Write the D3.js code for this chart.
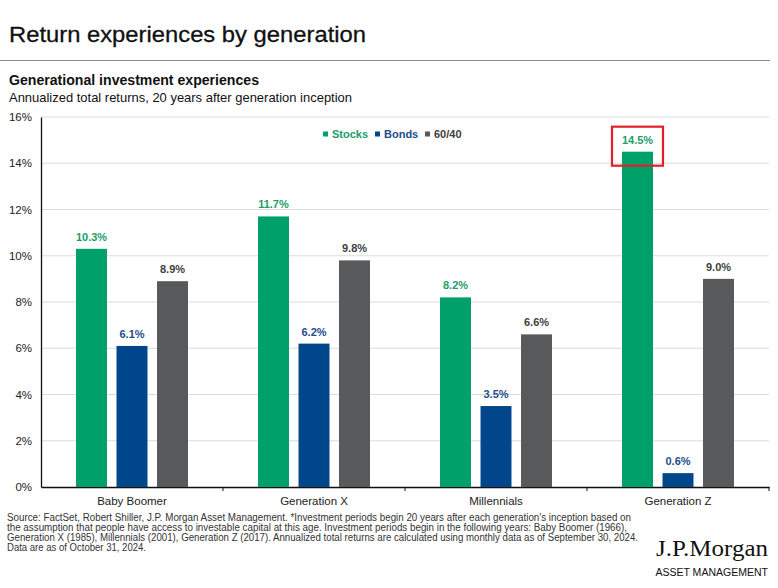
<!DOCTYPE html>
<html>
<head>
<meta charset="utf-8">
<script src="https://cdn.jsdelivr.net/npm/d3@7"></script>
<style>
  body { margin: 0; background: #fff; }
  svg { display: block; font-family: "Liberation Sans", Arial, sans-serif; }
</style>
</head>
<body>
<div id="chart"></div>
<script>
// chart data
const generations = ["Baby Boomer", "Generation X", "Millennials", "Generation Z"]
const seriesNames = ["Stocks", "Bonds", "60/40"]
const stocks = [10.3, 11.7, 8.2, 14.5]
const bonds = [6.1, 6.2, 3.5, 0.6]
const sixtyForty = [8.9, 9.8, 6.6, 9.0]
const yTicks = [0, 2, 4, 6, 8, 10, 12, 14, 16]
const footnote = [
    "Source: FactSet, Robert Shiller, J.P. Morgan Asset Management. *Investment periods begin 20 years after each generation's inception based on",
    "the assumption that people have access to investable capital at this age. Investment periods begin in the following years: Baby Boomer (1966),",
    "Generation X (1985), Millennials (2001), Generation Z (2017). Annualized total returns are calculated using monthly data as of September 30, 2024.",
    "Data are as of October 31, 2024."
]

const W = 778, H = 588
const plot = { left: 41, right: 769, top: 117, bottom: 487 }

const barColor = { "Stocks": "#00a06b", "Bonds": "#00468b", "60/40": "#58595b" }
const textColor = { "Stocks": "#1b9d6c", "Bonds": "#1d4e8a", "60/40": "#404040" }

const rows = []
generations.forEach(function (g, i) {
    rows.push({ gen: g, series: "Stocks", value: stocks[i] })
    rows.push({ gen: g, series: "Bonds", value: bonds[i] })
    rows.push({ gen: g, series: "60/40", value: sixtyForty[i] })
})

const svg = d3.select("#chart").append("svg")
    .attr("width", W)
    .attr("height", H)

// header
svg.append("text")
    .attr("x", 9).attr("y", 41.5)
    .attr("font-size", 22.5)
    .attr("fill", "#111")
    .attr("stroke", "#111").attr("stroke-width", 0.3)
    .attr("textLength", 357).attr("lengthAdjust", "spacingAndGlyphs")
    .text("Return experiences by generation")

svg.append("line")
    .attr("x1", 0).attr("x2", 770)
    .attr("y1", 60.5).attr("y2", 60.5)
    .attr("stroke", "#8c8c8c").attr("stroke-width", 1)

svg.append("text")
    .attr("x", 9).attr("y", 85)
    .attr("font-size", 14).attr("font-weight", "bold")
    .attr("fill", "#111")
    .attr("textLength", 250).attr("lengthAdjust", "spacingAndGlyphs")
    .text("Generational investment experiences")

svg.append("text")
    .attr("x", 9).attr("y", 102)
    .attr("font-size", 13.5)
    .attr("fill", "#111")
    .attr("textLength", 343).attr("lengthAdjust", "spacingAndGlyphs")
    .text("Annualized total returns, 20 years after generation inception")

// scales
const x0 = d3.scaleBand()
    .domain(generations)
    .range([plot.left, plot.right])
    .padding(0)

const x1 = d3.scaleBand()
    .domain(seriesNames)
    .range([35, x0.bandwidth() - 35])
    .paddingInner(0.235)
    .paddingOuter(0)

const y = d3.scaleLinear()
    .domain([0, 16])
    .range([plot.bottom, plot.top])

// gridlines
svg.append("g")
    .selectAll("line")
    .data(yTicks.filter(function (d) { return d > 0 }))
    .join("line")
    .attr("x1", plot.left).attr("x2", plot.right)
    .attr("y1", function (d) { return y(d) }).attr("y2", function (d) { return y(d) })
    .attr("stroke", "#dcdcdc").attr("stroke-width", 1.2)

// y axis
const yAxis = svg.append("g")
    .attr("transform", `translate(${plot.left},0)`)
    .call(d3.axisLeft(y).tickValues(yTicks).tickSize(0).tickPadding(9)
        .tickFormat(function (d) { return d + "%" }))
yAxis.select(".domain").attr("stroke", "#111").attr("stroke-width", 1.3)
yAxis.selectAll("text")
    .attr("font-size", 11.5)
    .attr("font-family", "Liberation Sans, Arial, sans-serif")
    .attr("fill", "#222")

// x axis
const xAxis = svg.append("g")
    .attr("transform", `translate(0,${plot.bottom})`)
    .call(d3.axisBottom(x0).tickSize(0).tickPadding(10))
xAxis.select(".domain").attr("stroke", "#111").attr("stroke-width", 1.3)
xAxis.selectAll("text")
    .attr("font-size", 11.5)
    .attr("font-family", "Liberation Sans, Arial, sans-serif")
    .attr("fill", "#222")

// small ticks between categories
svg.append("g")
    .selectAll("line")
    .data(generations.slice(1).concat(["end"]))
    .join("line")
    .attr("x1", function (d, i) { return plot.left + x0.step() * (i + 1) })
    .attr("x2", function (d, i) { return plot.left + x0.step() * (i + 1) })
    .attr("y1", plot.bottom).attr("y2", plot.bottom + 4)
    .attr("stroke", "#111").attr("stroke-width", 1)

// bars
const groups = svg.append("g")
    .selectAll("g")
    .data(rows)
    .join("g")
    .attr("transform", function (d) { return `translate(${x0(d.gen) + x1(d.series)},0)` })

groups.append("rect")
    .attr("x", 0)
    .attr("y", function (d) { return y(d.value) })
    .attr("width", x1.bandwidth())
    .attr("height", function (d) { return plot.bottom - y(d.value) })
    .attr("fill", function (d) { return barColor[d.series] })

groups.append("text")
    .attr("x", x1.bandwidth() / 2)
    .attr("y", function (d) { return y(d.value) - 8 })
    .attr("text-anchor", "middle")
    .attr("font-size", 11)
    .attr("font-weight", "bold")
    .attr("fill", function (d) { return textColor[d.series] })
    .text(function (d) { return d.value.toFixed(1) + "%" })

// highlight box on Generation Z stocks
const hx = x0("Generation Z") + x1("Stocks") + x1.bandwidth() / 2
svg.append("rect")
    .attr("x", hx - 25.5)
    .attr("y", y(14.5) - 25)
    .attr("width", 51)
    .attr("height", 39)
    .attr("fill", "none")
    .attr("stroke", "#e3202a")
    .attr("stroke-width", 2.2)

// legend
const legendX = [323, 375, 425]
const legend = svg.append("g")
    .selectAll("g")
    .data(seriesNames)
    .join("g")
    .attr("transform", function (d, i) { return `translate(${legendX[i]},134)` })

legend.append("rect")
    .attr("x", 0).attr("y", -2.5)
    .attr("width", 5).attr("height", 5)
    .attr("fill", function (d) { return barColor[d] })

legend.append("text")
    .attr("x", 9).attr("y", 4)
    .attr("font-size", 11)
    .attr("font-weight", "bold")
    .attr("fill", function (d) { return textColor[d] })
    .text(function (d) { return d })

// footnote
svg.append("g")
    .selectAll("text")
    .data(footnote)
    .join("text")
    .attr("x", 7)
    .attr("y", function (d, i) { return 521 + i * 10 })
    .attr("font-size", 10)
    .attr("font-family", "Liberation Sans Narrow, Liberation Sans, Arial, sans-serif")
    .attr("fill", "#333")
    .attr("textLength", function (d, i) { return [624, 620, 631, 139][i] })
    .attr("lengthAdjust", "spacingAndGlyphs")
    .text(function (d) { return d })

// logo
svg.append("text")
    .attr("x", 768).attr("y", 556)
    .attr("text-anchor", "end")
    .attr("font-size", 23)
    .attr("font-family", "Liberation Serif, DejaVu Serif, serif")
    .attr("fill", "#111")
    .attr("textLength", 112).attr("lengthAdjust", "spacingAndGlyphs")
    .text("J.P.Morgan")

// condensed caption under the logo (horizontal squeeze instead of textLength)
svg.append("g")
    .attr("transform", "translate(768,576) scale(0.915,1)")
    .append("text")
    .attr("x", 0).attr("y", 0)
    .attr("text-anchor", "end")
    .attr("font-size", 11.5)
    .attr("font-family", "Liberation Sans, Arial, sans-serif")
    .attr("fill", "#111")
    .text("ASSET MANAGEMENT")
</script>
</body>
</html>
